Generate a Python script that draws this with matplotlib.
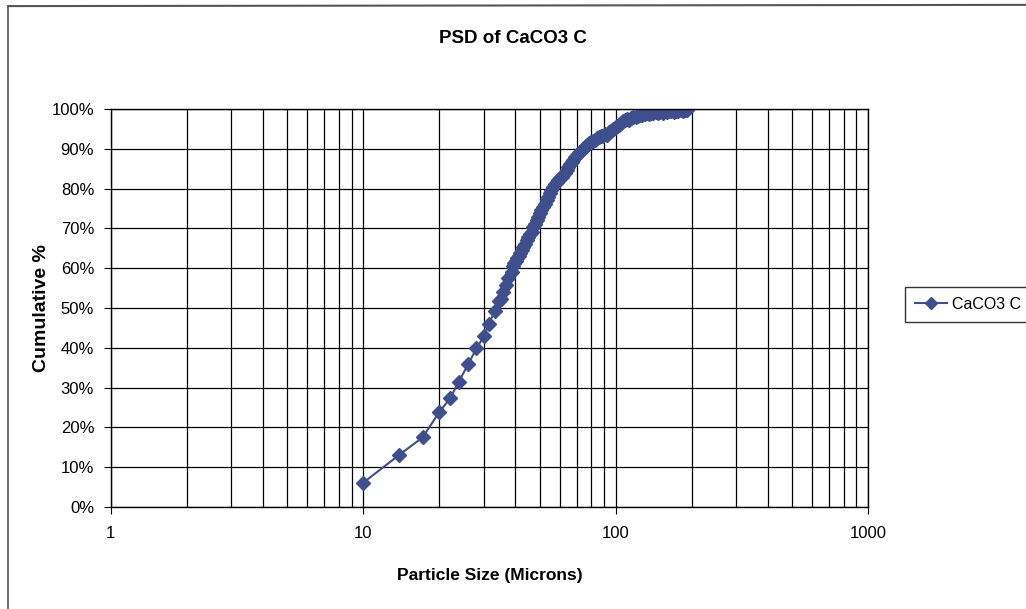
import matplotlib.pyplot as plt
from matplotlib.lines import Line2D
from matplotlib.ticker import FixedLocator, FuncFormatter, LogLocator, NullFormatter

# particle size (microns) and cumulative %
size_um = [10.0, 13.9, 17.2, 20.0, 22.1, 23.9, 26.1, 28.1, 30.2, 31.4,
           33.3, 34.6, 35.2, 35.7, 36.7, 37.6, 38.7, 39.3, 39.7, 40.2,
           40.8, 41.3, 41.8, 42.4, 43.1, 43.7, 44.4, 45.0, 45.7, 46.5,
           47.2, 47.9, 48.6, 49.3, 50.1, 50.8, 51.6, 52.4, 53.3, 54.1,
           54.9, 55.7, 56.6, 57.5, 58.4, 59.3, 60.2, 61.1, 61.9, 62.9,
           64.0, 65.0, 66.0, 67.0, 68.0, 69.1, 70.2, 71.3, 72.3, 73.5,
           74.8, 76.0, 77.3, 78.7, 80.1, 81.6, 83.0, 84.5, 86.1, 87.7,
           89.3, 91.0, 92.2, 93.8, 95.5, 97.3, 99.1, 101.0, 103.0, 105.0,
           107.0, 108.9, 110.7, 113.0, 115.3, 117.6, 120.0, 122.5, 125.0, 127.6,
           130.2, 132.9, 135.6, 138.4, 141.3, 144.2, 147.2, 150.3, 153.4, 156.6,
           159.8, 163.1, 166.5, 170.0, 173.5, 177.1, 180.8, 184.5, 188.3, 192.2]
cum_pct = [6.1, 13.1, 17.5, 23.8, 27.3, 31.5, 35.9, 39.9, 43.0, 46.0,
           49.2, 51.8, 52.3, 54.1, 55.8, 57.5, 59.1, 60.6, 61.2, 61.8,
           62.5, 63.0, 63.7, 64.5, 65.4, 66.2, 67.1, 67.9, 68.5, 69.2,
           70.3, 71.2, 72.0, 72.9, 73.8, 74.6, 75.4, 76.2, 77.1, 78.0,
           78.9, 79.7, 80.5, 81.1, 81.6, 82.1, 82.6, 83.0, 83.5, 84.0,
           84.7, 85.4, 86.2, 86.8, 87.3, 87.9, 88.5, 89.0, 89.3, 89.7,
           90.2, 90.6, 91.0, 91.4, 91.7, 91.9, 92.2, 92.6, 92.9, 93.1,
           93.3, 93.7, 93.5, 94.1, 94.5, 94.9, 95.3, 95.7, 96.1, 96.5,
           96.9, 97.2, 97.5, 97.3, 97.7, 98.0, 97.9, 98.2, 98.5, 98.4,
           98.7, 98.9, 98.7, 99.0, 98.9, 99.2, 99.0, 99.3, 99.1, 99.4,
           99.2, 99.4, 99.6, 99.3, 99.6, 99.4, 99.7, 99.6, 99.8, 99.8]

series_name = 'CaCO3 C'
y_ticks = [0, 10, 20, 30, 40, 50, 60, 70, 80, 90, 100]
x_ticks = [1, 10, 100, 1000]

plt.rcParams['font.family'] = ['Liberation Sans', 'DejaVu Sans']

navy = '#3F4E8C'

fig = plt.figure(figsize=(10.26, 6.09), dpi=100)
ax = fig.add_axes([0.108, 0.1675, 0.738, 0.6535])

ax.plot(size_um, cum_pct, color=navy, lw=1.5, marker='D', ms=7,
        markerfacecolor=navy, markeredgecolor=navy, label=series_name)

ax.set_xscale('log')
ax.set_xlim(1, 1000)
ax.set_ylim(0, 100)

ax.xaxis.set_major_locator(FixedLocator(x_ticks))
ax.xaxis.set_major_formatter(FuncFormatter(lambda v, p: f'{v:g}'))
ax.xaxis.set_minor_locator(LogLocator(base=10, subs=range(2, 10)))
ax.xaxis.set_minor_formatter(NullFormatter())
ax.set_yticks(y_ticks)
ax.yaxis.set_major_formatter(FuncFormatter(lambda v, p: f'{v:.0f}%'))

ax.grid(True, which='major', color='black', lw=0.9)
ax.grid(True, which='minor', axis='x', color='black', lw=0.9)
ax.set_axisbelow(True)
for s in ax.spines.values():
    s.set_color('black')
    s.set_linewidth(1.0)

ax.tick_params(axis='both', which='major', direction='out', length=5,
               labelsize=12, colors='black', pad=7)
ax.tick_params(axis='x', which='minor', length=0)
ax.tick_params(axis='x', which='major', pad=9)

ax.set_xlabel('Particle Size (Microns)', fontsize=12.5, fontweight='bold', labelpad=19)
ax.set_ylabel('Cumulative %', fontsize=14, fontweight='bold', labelpad=1)
fig.text(0.5, 0.937, 'PSD of CaCO3 C', ha='center', va='center',
         fontsize=13.5, fontweight='bold')

handle = Line2D([], [], color=navy, lw=1.5, marker='D', ms=6,
                markerfacecolor=navy, markeredgecolor=navy)
fig.legend([handle], [series_name], loc='center left',
           bbox_to_anchor=(0.882, 0.5), fontsize=11.5, frameon=True,
           fancybox=False, edgecolor='black', handlelength=2.0,
           borderpad=0.65, handletextpad=0.3, borderaxespad=0.0)

# chart-area border (top and left are visible in the scan)
fig.add_artist(Line2D([0.008, 1.0], [0.99, 0.992], transform=fig.transFigure,
                      color='#555555', lw=1.5))
fig.add_artist(Line2D([0.008, 0.008], [0.0, 0.99], transform=fig.transFigure,
                      color='#555555', lw=1.2))

plt.savefig('out.png', dpi=100)
